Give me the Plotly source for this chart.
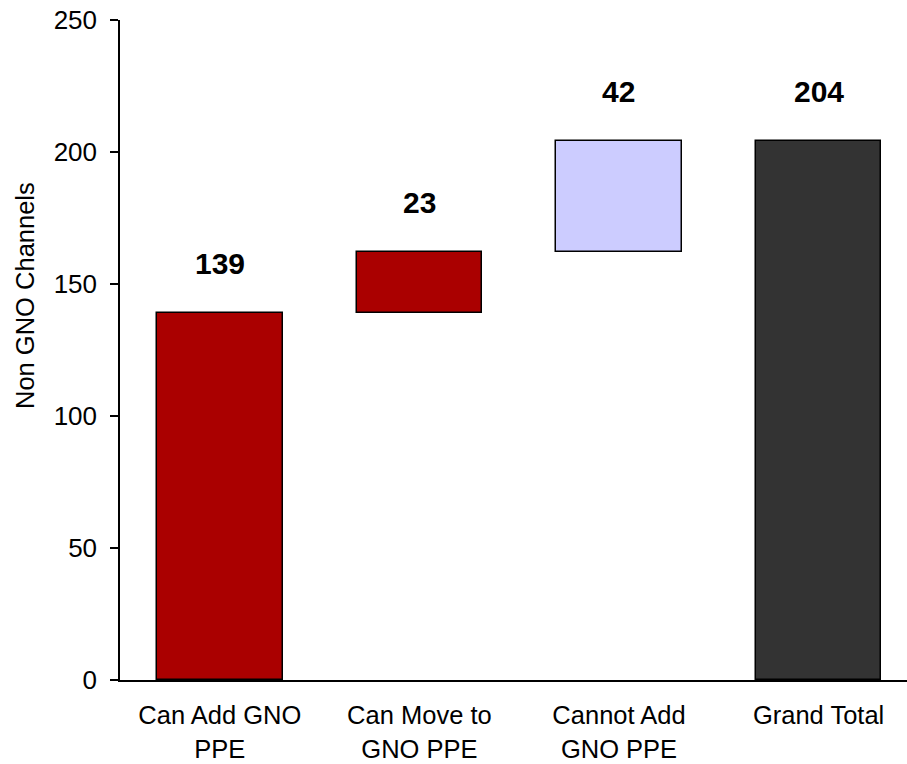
import plotly.graph_objects as go

# Waterfall of non-GNO channels
categories = ["Can Add GNO<br>PPE", "Can Move to<br>GNO PPE", "Cannot Add<br>GNO PPE", "Grand Total"]
values = [139, 23, 42, 204]
is_total = [False, False, False, True]
colors = ["#AA0000", "#AA0000", "#CCCCFF", "#333333"]
y_ticks = [0, 50, 100, 150, 200, 250]

# running base for each step; totals start from zero
bases = []
running = 0
for v, tot in zip(values, is_total):
    if tot:
        bases.append(0)
    else:
        bases.append(running)
        running += v

x_pos = list(range(len(categories)))

W, H = 907, 764
ML, MR, MT, MB = 120, 0, 20, 84
font_family = "Liberation Sans, Arial, sans-serif"

fig = go.Figure()
fig.add_trace(go.Bar(
    x=x_pos,
    y=values,
    base=bases,
    width=0.63,
    marker=dict(color=colors, line=dict(color="#000000", width=1.5)),
    hoverinfo="skip",
))

# bold value labels above each bar
for xi, b, v in zip(x_pos, bases, values):
    fig.add_annotation(
        x=xi, y=b + v, xref="x", yref="y",
        text=f"<b>{v}</b>", showarrow=False,
        xanchor="center", yanchor="middle", yshift=50,
        font=dict(family=font_family, size=30, color="#000000"),
    )

# y-axis title, positioned in pixels relative to the plot area
plot_w = W - ML - MR
plot_h = H - MT - MB
fig.add_annotation(
    x=(25 - ML) / plot_w, y=(H - MB - 296) / plot_h,
    xref="x domain", yref="y domain",
    text="Non GNO Channels", textangle=-90, showarrow=False,
    xanchor="center", yanchor="middle",
    font=dict(family=font_family, size=25.5, color="#000000"),
)

fig.update_layout(
    width=W, height=H,
    margin=dict(l=ML, r=MR, t=MT, b=MB, pad=0, autoexpand=False),
    paper_bgcolor="white", plot_bgcolor="white",
    showlegend=False,
    bargap=0,
    font=dict(family=font_family, size=26, color="#000000"),
)

fig.update_xaxes(
    range=[-0.5, 3.443],
    tickmode="array", tickvals=x_pos, ticktext=categories,
    showline=True, linecolor="#000000", linewidth=1.5,
    ticks="", showgrid=False, zeroline=False,
    ticklabelstandoff=12, automargin=False,
    tickfont=dict(size=25.5),
)
fig.update_yaxes(
    range=[0, 250], tickvals=y_ticks,
    showline=True, linecolor="#000000", linewidth=1.5,
    ticks="outside", ticklen=8, tickcolor="#000000", tickwidth=1.5,
    showgrid=False, zeroline=False,
    ticklabelstandoff=8, automargin=False,
    tickfont=dict(size=26),
)

fig.write_html("out.html")
